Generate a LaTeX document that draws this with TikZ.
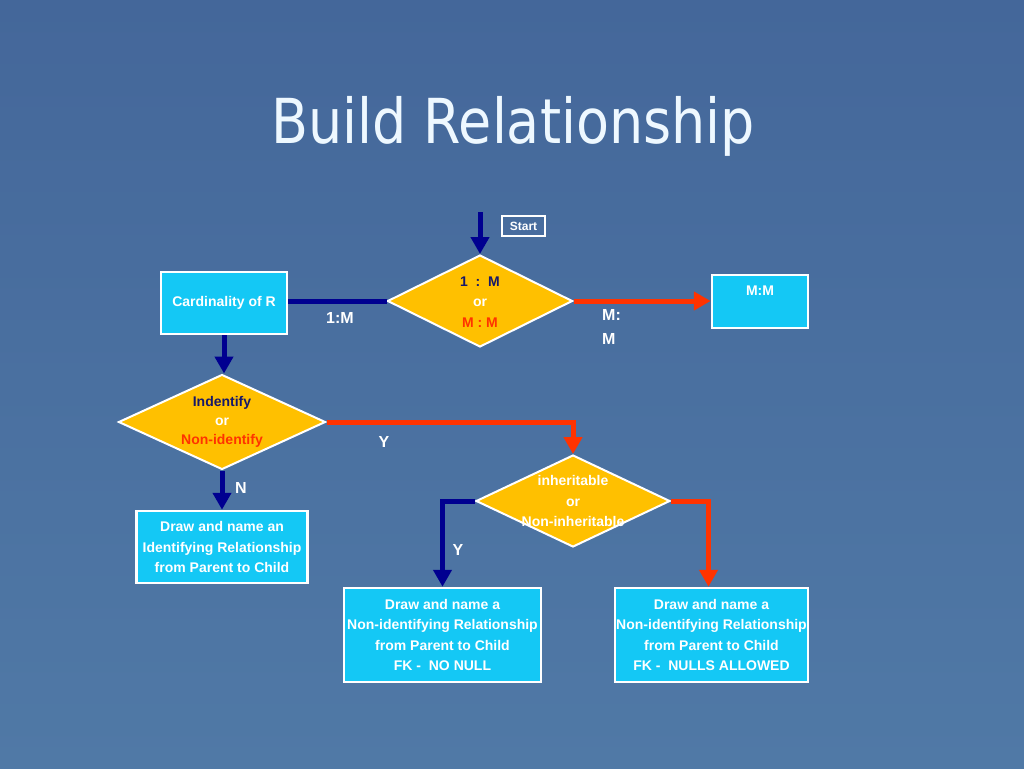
\documentclass[tikz,border=0pt]{standalone}
\usepackage{fontspec}
\setmainfont{Liberation Sans}
\newfontfamily\titlefont[FakeStretch=0.87]{DejaVu Sans}
\usetikzlibrary{shapes.geometric,arrows.meta,calc}
\definecolor{bgtop}{HTML}{44679A}
\definecolor{bgbot}{HTML}{5079A6}
\definecolor{boxcyan}{HTML}{14C8F5}
\definecolor{dyellow}{HTML}{FFC000}
\definecolor{navyline}{HTML}{000090}
\definecolor{navytext}{HTML}{16186A}
\definecolor{redline}{HTML}{FF3300}
\definecolor{titlewhite}{HTML}{EEF8FF}
\tikzset{
  txt/.style={font=\bfseries\fontsize{14}{20.5}\selectfont, text=white, align=center, inner sep=0pt},
  lbl/.style={font=\bfseries\fontsize{16}{24}\selectfont, text=white, align=center, inner sep=0pt},
  cbox/.style={draw=white, line width=2.5pt, fill=boxcyan, rectangle, inner sep=0pt},
  dmd/.style={draw=white, line width=2pt, fill=dyellow, diamond, inner sep=0pt},
  bluearrow/.style={draw=navyline, line width=5pt, -{Triangle[width=18pt,length=17pt]}},
  redarrow/.style={draw=redline, line width=5pt, -{Triangle[width=18pt,length=17pt]}},
  blueline/.style={draw=navyline, line width=5pt},
}
\begin{document}
\begin{tikzpicture}[x=1pt,y=-1pt]
\shade[top color=bgtop, bottom color=bgbot] (0,0) rectangle (1024,768);
\useasboundingbox (0,0) rectangle (1024,768);

% title
\node[font=\titlefont\fontsize{62}{68}\selectfont, text=titlewhite, anchor=base, inner sep=0pt] (title) at (513,143) {Build Relationship};

% start
\node[draw=white, line width=1.2pt, font=\bfseries\fontsize{12}{14}\selectfont, text=white, minimum width=43pt, minimum height=20pt, inner sep=0pt] (start) at (523.5,226) {Start};
\coordinate (startin) at (480,212);

% diamonds (shapes)
\node[dmd, minimum width=185pt, minimum height=92pt] (d1) at (480,301) {};
\node[dmd, minimum width=207pt, minimum height=95pt] (d2) at (222,422) {};
\node[dmd, minimum width=194pt, minimum height=92pt] (d3) at (573,501) {};

% diamond texts
\node[txt] (d1t) at (480,302) {\textcolor{navytext}{1\ \ :\ \ M}\\or\\\textcolor{redline}{M : M}};
\node[txt, font=\bfseries\fontsize{14}{19}\selectfont] (d2t) at (222,422) {\textcolor{navytext}{Indentify}\\or\\\textcolor{redline}{Non-identify}};
\node[txt] (d3t) at (573,501) {inheritable\\or\\Non-inheritable};

% boxes
\node[cbox, minimum width=126pt, minimum height=62pt, txt] (b1) at (224,303) {Cardinality of R};
\node[cbox, minimum width=96pt, minimum height=53pt] (mm) at (760,301.5) {};
\node[txt] (mmt) at (760,291) {M:M};
\node[cbox, minimum width=171pt, minimum height=72pt, txt] (b3) at (222,547) {Draw and name an\\Identifying Relationship\\from Parent to Child};
\node[cbox, minimum width=197pt, minimum height=94pt, txt] (b4) at (442.5,635) {Draw and name a\\Non-identifying Relationship\\from Parent to Child\\FK -\ \ NO NULL};
\node[cbox, minimum width=193pt, minimum height=94pt, txt] (b5) at (711.5,635) {Draw and name a\\Non-identifying Relationship\\from Parent to Child\\FK -\ \ NULLS ALLOWED};

% connectors
\draw[bluearrow] (startin) -- (d1.north);
\draw[blueline] (d1.west -| b1.east) -- (d1.west);
\draw[redarrow] (d1.east) -- (mm.west |- d1.east);
\draw[bluearrow] (b1.south) -- (b1.south |- d2.north);
\draw[redarrow] (d2.east) -| (d3.north);
\draw[bluearrow] (d2.south) -- (d2.south |- b3.north);
\draw[bluearrow] (d3.west) -| (b4.north);
\draw[redarrow] (d3.east) -| ($(b5.north)+(-3,0)$);

% labels
\node[lbl] (l1) at (340,318) {1:M};
\node[lbl, align=left, anchor=north west] (l2) at (602,309) {M:\\M};
\node[lbl] (l3) at (384,442) {Y};
\node[lbl] (l4) at (241,488) {N};
\node[lbl] (l5) at (458,550) {Y};
\end{tikzpicture}
\end{document}
